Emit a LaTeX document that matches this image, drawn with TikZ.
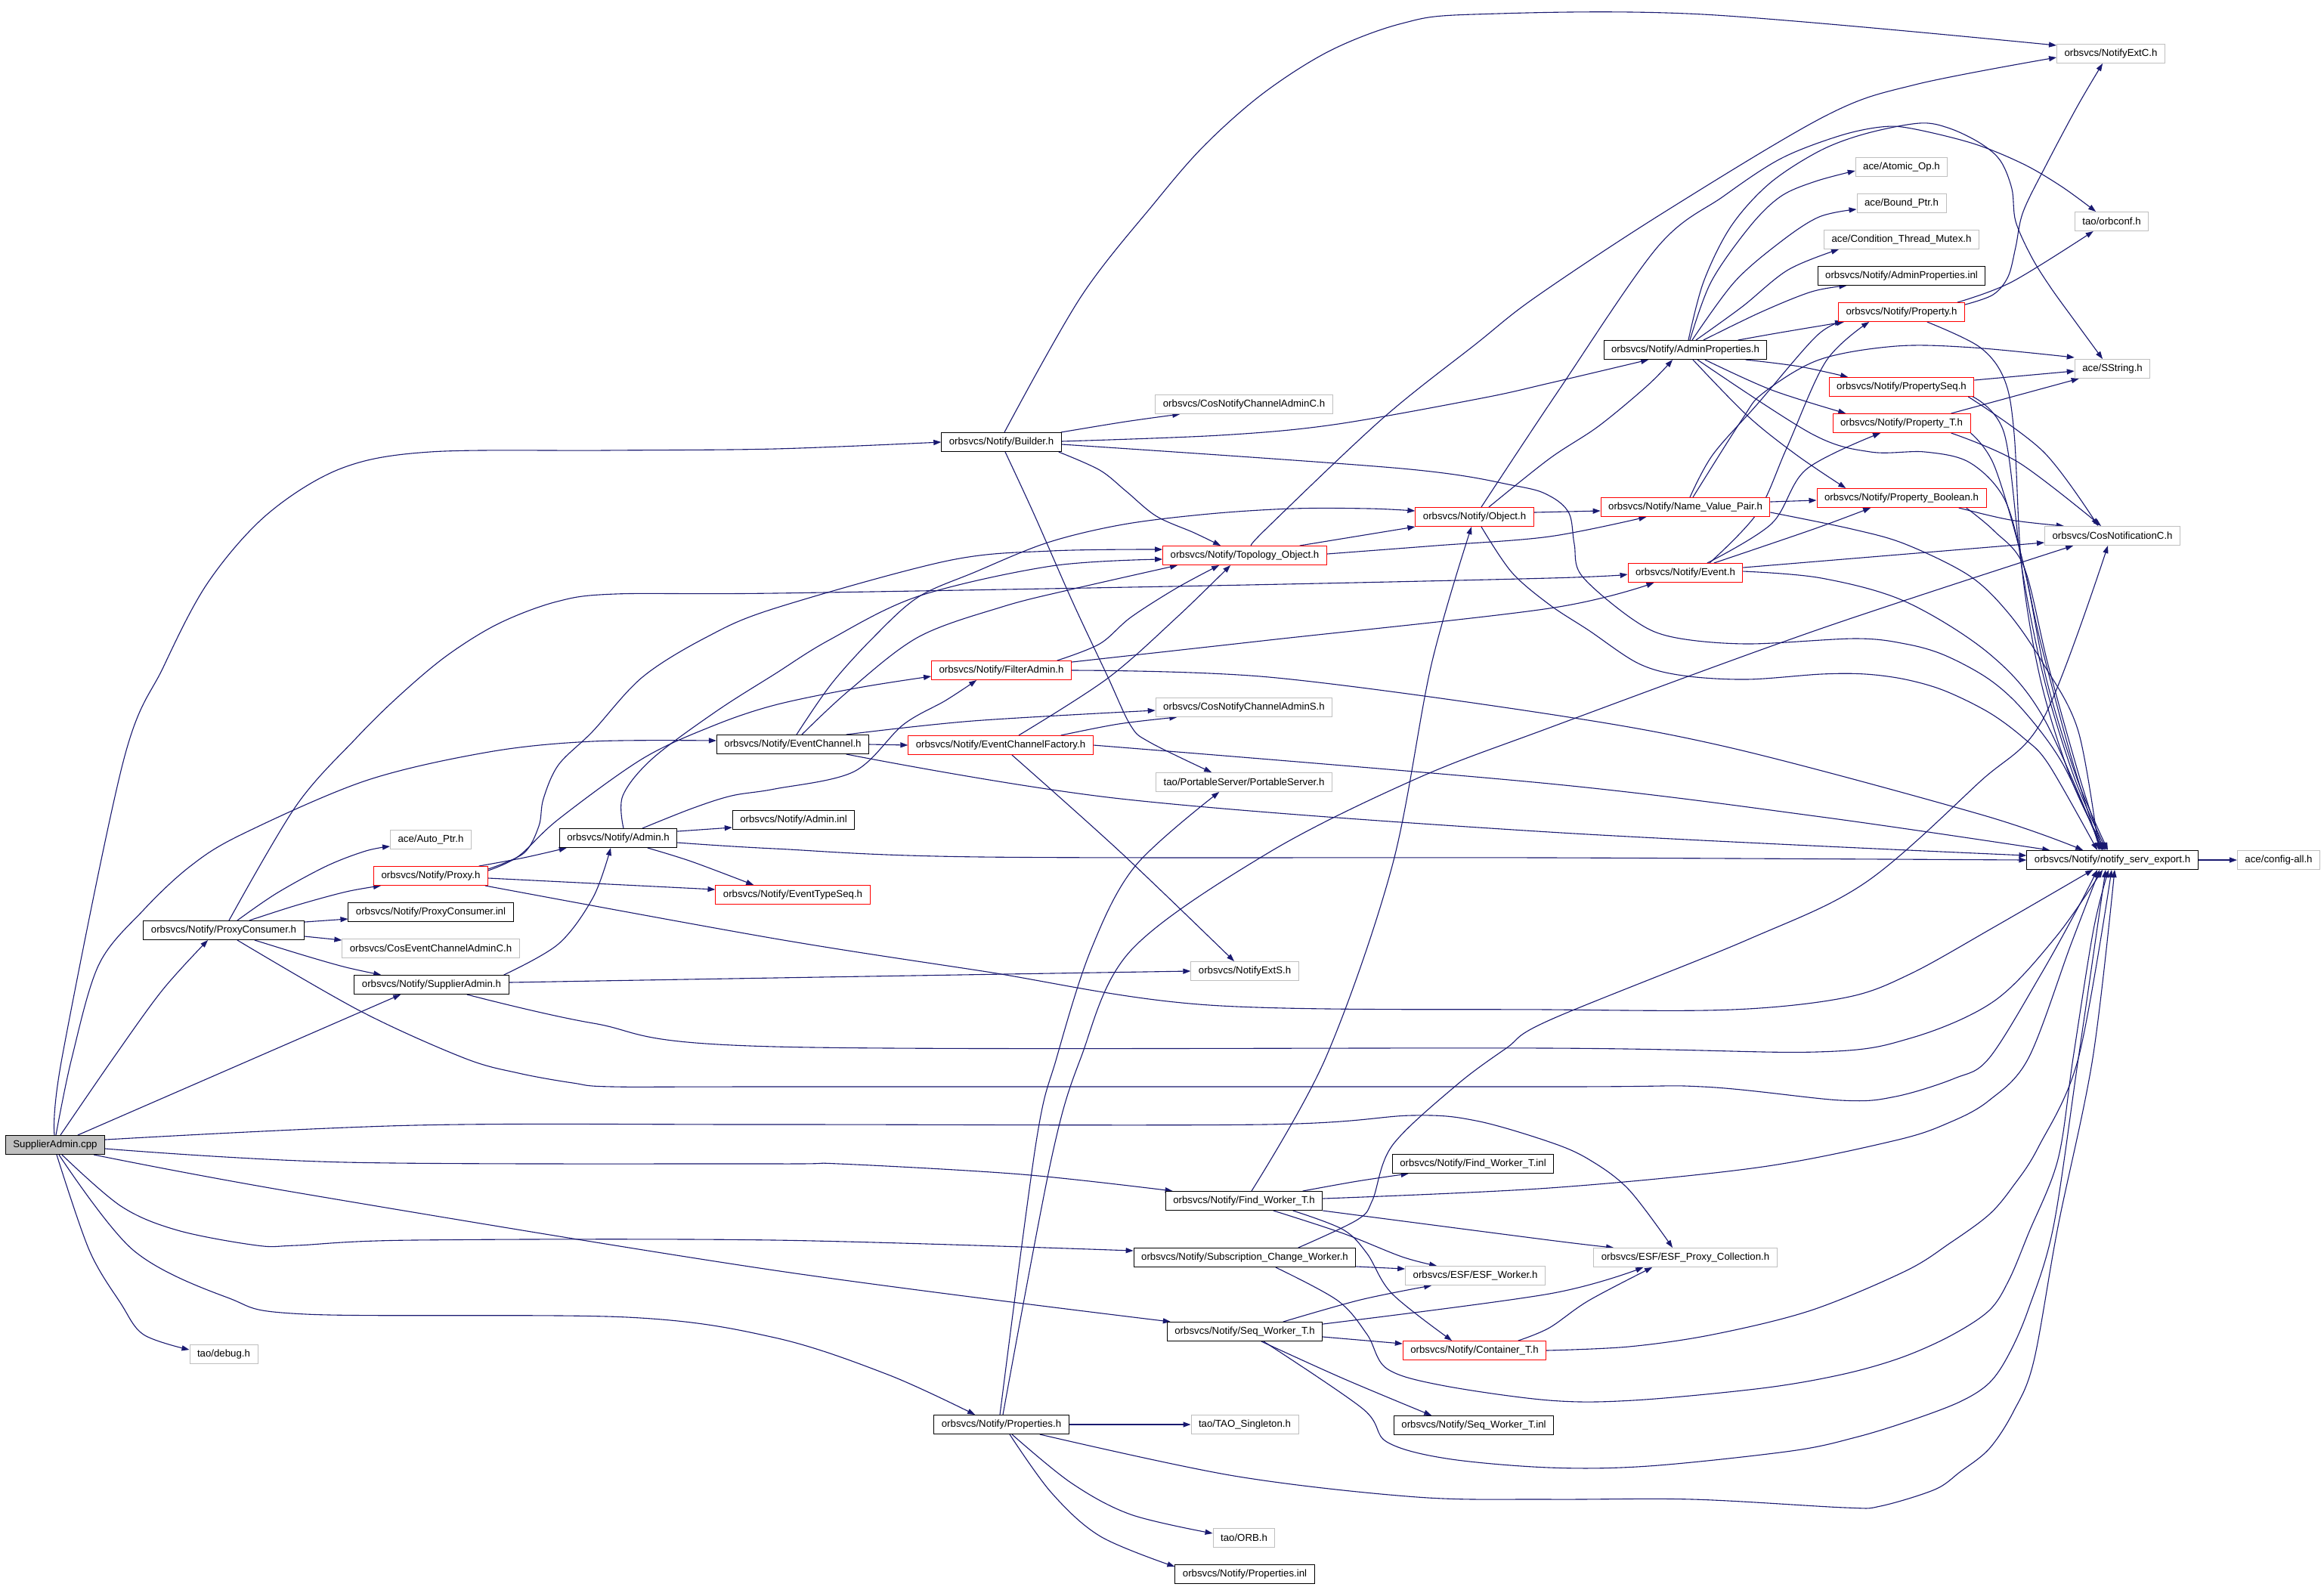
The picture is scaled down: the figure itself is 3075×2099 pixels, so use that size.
\documentclass[tikz,border=0pt]{standalone}
\usepackage{fontspec}
\setmainfont{Liberation Sans}
\usetikzlibrary{arrows.meta}
\definecolor{edgec}{HTML}{191970}
\definecolor{graybd}{HTML}{BFBFBF}
\pgfdeclarelayer{bg}
\pgfsetlayers{bg,main}
\begin{document}
\begin{tikzpicture}[x=1bp,y=-1bp,
 box/.style={rectangle, fill=white, minimum height=25bp, inner xsep=10bp, inner ysep=2bp, font=\fontsize{13.3}{15}\selectfont, line width=1bp},
 blk/.style={box, draw=black},
 redb/.style={box, draw=red},
 gryb/.style={box, draw=graybd},
 root/.style={box, draw=black, fill=graybd},
 dep/.style={draw=edgec, line width=1.1bp, -{Triangle[length=10bp,width=7bp]}},
 sm/.style={smooth, tension=0.55}]
\useasboundingbox (0,0) rectangle (3075,2099);
\node[root] (cpp) at (73,1515) {SupplierAdmin.cpp};
\node[blk] (builder) at (1325,585) {orbsvcs/Notify/Builder.h};
\node[gryb] (cncac) at (1646,535) {orbsvcs/CosNotifyChannelAdminC.h};
\node[gryb] (nextc) at (2793,71) {orbsvcs/NotifyExtC.h};
\node[gryb] (atomic) at (2516,221) {ace/Atomic\_Op.h};
\node[gryb] (bound) at (2516,269) {ace/Bound\_Ptr.h};
\node[gryb] (ctm) at (2516,317) {ace/Condition\_Thread\_Mutex.h};
\node[blk] (apinl) at (2516,365) {orbsvcs/Notify/AdminProperties.inl};
\node[gryb] (orbconf) at (2794,293) {tao/orbconf.h};
\node[redb] (prop) at (2516,413) {orbsvcs/Notify/Property.h};
\node[blk] (adminprops) at (2230,463) {orbsvcs/Notify/AdminProperties.h};
\node[gryb] (sstring) at (2795,488) {ace/SString.h};
\node[redb] (propseq) at (2516,512) {orbsvcs/Notify/PropertySeq.h};
\node[redb] (propt) at (2516,560) {orbsvcs/Notify/Property\_T.h};
\node[redb] (object) at (1951,684) {orbsvcs/Notify/Object.h};
\node[redb] (nvp) at (2230,671) {orbsvcs/Notify/Name\_Value\_Pair.h};
\node[redb] (propbool) at (2516,659) {orbsvcs/Notify/Property\_Boolean.h};
\node[gryb] (cosnotc) at (2795,709) {orbsvcs/CosNotificationC.h};
\node[redb] (topo) at (1647,735) {orbsvcs/Notify/Topology\_Object.h};
\node[redb] (event) at (2230,758) {orbsvcs/Notify/Event.h};
\node[redb] (filter) at (1325,887) {orbsvcs/Notify/FilterAdmin.h};
\node[gryb] (cncas) at (1646,936) {orbsvcs/CosNotifyChannelAdminS.h};
\node[blk] (ec) at (1049,985) {orbsvcs/Notify/EventChannel.h};
\node[redb] (ecf) at (1324,986) {orbsvcs/Notify/EventChannelFactory.h};
\node[gryb] (ps) at (1646,1035) {tao/PortableServer/PortableServer.h};
\node[blk] (admininl) at (1050,1085) {orbsvcs/Notify/Admin.inl};
\node[blk] (admin) at (818,1109) {orbsvcs/Notify/Admin.h};
\node[blk] (notify) at (2795,1138) {orbsvcs/Notify/notify\_serv\_export.h};
\node[gryb] (config) at (3015,1138) {ace/config-all.h};
\node[gryb] (autoptr) at (570,1111) {ace/Auto\_Ptr.h};
\node[redb] (proxy) at (570,1159) {orbsvcs/Notify/Proxy.h};
\node[redb] (ets) at (1049,1184) {orbsvcs/Notify/EventTypeSeq.h};
\node[blk] (pcinl) at (570,1207) {orbsvcs/Notify/ProxyConsumer.inl};
\node[gryb] (cecac) at (570,1255) {orbsvcs/CosEventChannelAdminC.h};
\node[blk] (pc) at (296,1231) {orbsvcs/Notify/ProxyConsumer.h};
\node[blk] (sa) at (571,1303) {orbsvcs/Notify/SupplierAdmin.h};
\node[gryb] (nexts) at (1647,1285) {orbsvcs/NotifyExtS.h};
\node[blk] (fwt) at (1646,1589) {orbsvcs/Notify/Find\_Worker\_T.h};
\node[blk] (fwtinl) at (1949,1540) {orbsvcs/Notify/Find\_Worker\_T.inl};
\node[gryb] (esfpc) at (2230,1664) {orbsvcs/ESF/ESF\_Proxy\_Collection.h};
\node[blk] (scw) at (1647,1664) {orbsvcs/Notify/Subscription\_Change\_Worker.h};
\node[gryb] (esfw) at (1952,1688) {orbsvcs/ESF/ESF\_Worker.h};
\node[blk] (swt) at (1647,1762) {orbsvcs/Notify/Seq\_Worker\_T.h};
\node[redb] (ct) at (1951,1787) {orbsvcs/Notify/Container\_T.h};
\node[blk] (swtinl) at (1950,1886) {orbsvcs/Notify/Seq\_Worker\_T.inl};
\node[gryb] (debug) at (296,1792) {tao/debug.h};
\node[blk] (props) at (1325,1885) {orbsvcs/Notify/Properties.h};
\node[gryb] (taos) at (1647,1885) {tao/TAO\_Singleton.h};
\node[gryb] (orb) at (1646,2035) {tao/ORB.h};
\node[blk] (propsinl) at (1647,2083) {orbsvcs/Notify/Properties.inl};
\begin{pgfonlayer}{bg}
\fill[white] (0,0) rectangle (3075,2099);
% SupplierAdmin.cpp
\draw[dep] plot[sm] coordinates {([xshift=-1]cpp.north) (82,1400) (163,1008) (216,883) (275,771) (353,681) (451,620) (569,598) (800,596) (1025,594) (builder.west)};
\draw[dep] plot[sm] coordinates {([xshift=1]cpp.north) (95,1400) (131,1276) (190,1204) (252,1146) (320,1104) (484,1033) (647,995) (784,981) ([yshift=5]ec.west)};
\draw[dep] plot[sm] coordinates {([xshift=7]cpp.north) (150,1400) (215,1310) ([xshift=-21]pc.south)};
\draw[dep] ([xshift=30]cpp.north) -- ([xshift=-41]sa.south);
\draw[dep] plot[sm] coordinates {([yshift=7]cpp.east) (549,1489) (1025,1488) (1672,1488) (1868,1476) (1953,1483) (2050,1511) (2102,1534) (2155,1574) ([xshift=-17]esfpc.north)};
\draw[dep] plot[sm] coordinates {([yshift=-5]cpp.east) (458,1538) (1025,1540) (1110,1540) (1352,1554) ([xshift=10]fwt.north west)};
\draw[dep] plot[sm] coordinates {([xshift=-15]cpp.south east) (392,1578) (1025,1681) ([xshift=5]swt.north west)};
\draw[dep] plot[sm] coordinates {([xshift=9]cpp.south) (160,1596) (235,1628) (340,1648) (392,1648) (546,1641) (1025,1641) ([yshift=9]scw.west)};
\draw[dep] plot[sm] coordinates {([xshift=5]cpp.south) (176,1654) (301,1717) (405,1739) (830,1743) (1025,1770) (1175,1819) ([xshift=-35]props.north)};
\draw[dep] plot[sm] coordinates {([xshift=2]cpp.south) (118,1654) (160,1725) (190,1766) ([yshift=6]debug.west)};
% ProxyConsumer.h
\draw[dep] plot[sm] coordinates {([xshift=18]pc.north) (366,1182) (432,1146) (484,1126) ([yshift=-9]autoptr.west)};
\draw[dep] plot[sm] coordinates {([xshift=34]pc.north) (392,1198) (458,1180) ([xshift=10]proxy.south west)};
\draw[dep] ([yshift=11]pc.east) -- ([yshift=-9]pcinl.west);
\draw[dep] ([yshift=-8]pc.east) -- ([yshift=11]cecac.west);
\draw[dep] plot[sm] coordinates {([xshift=41]pc.south) (405,1265) (458,1280) ([xshift=-67]sa.north)};
\draw[dep] plot[sm] coordinates {([xshift=7]pc.north) (392,1066) (471,977) (530,919) (592,867) (660,825) (737,796) (814,786) (1025,785) (1600,775) (2050,765) ([yshift=-2]event.west)};
\draw[dep] plot[sm] coordinates {([xshift=18]pc.south) (477,1338) (614,1400) (686,1420) (758,1433) (811,1438) (1025,1438) (2050,1438) (2253,1438) (2436,1456) (2508,1451) (2586,1427) (2632,1400) (2700,1290) (2750,1200) ([xshift=-20]notify.south)};
% Proxy.h
\draw[dep] plot[sm] coordinates {([xshift=64]proxy.north) (693,1135) ([xshift=10]admin.south west)};
\draw[dep] plot[sm] coordinates {([yshift=-4]proxy.north east) (693,1129) (713,1093) (719,1057) (739,1012) (784,968) (850,896) (935,843) (1025,805) (1254,742) (1391,729) ([yshift=8]topo.west)};
\draw[dep] plot[sm] coordinates {([yshift=-6]proxy.north east) (686,1133) (739,1084) (850,1004) (942,961) (1025,933) (1136,910) ([yshift=-8]filter.west)};
\draw[dep] ([yshift=-3]proxy.east) -- ([yshift=7]ets.west);
\draw[dep] plot[sm] coordinates {([xshift=-4]proxy.south east) (1025,1242) (1300,1285) (1600,1330) (2050,1336) (2292,1336) (2442,1320) (2527,1289) (2638,1227) ([xshift=-26]notify.south)};
% Admin.h
\draw[dep] ([yshift=9]admin.east) -- ([yshift=-10]admininl.west);
\draw[dep] plot[sm] coordinates {([yshift=-6]admin.east) (1025,1123) (1300,1134) (2050,1135) (notify.west)};
\draw[dep] plot[sm] coordinates {([xshift=39]admin.south) (915,1140) ([xshift=-52]ets.north)};
\draw[dep] plot[sm] coordinates {([xshift=7]admin.north) (824,1053) (863,1004) (948,941) (1025,892) (1097,847) (1215,789) (1391,749) ([yshift=-5]topo.west)};
\draw[dep] plot[sm] coordinates {([xshift=32]admin.north) (915,1070) (968,1053) (1025,1044) (1130,1021) (1195,959) (1251,927) ([xshift=-33]filter.south)};
% SupplierAdmin.h
\draw[dep] plot[sm] coordinates {([xshift=96]sa.north) (739,1249) (785,1187) ([xshift=-10]admin.south)};
\draw[dep] plot[sm] coordinates {([yshift=3]sa.east) (1025,1294) (nexts.west)};
\draw[dep] plot[sm] coordinates {([xshift=47]sa.south) (785,1354) (1025,1385) (2050,1387) (2403,1392) (2527,1374) (2638,1325) (2720,1240) ([xshift=-13]notify.south)};
% EventChannel.h
\draw[dep] (ec.east) -- (ecf.west);
\draw[dep] plot[sm] coordinates {([xshift=71]ec.north) (1287,954) ([yshift=-4]cncas.west)};
\draw[dep] plot[sm] coordinates {([xshift=12]ec.north) (1123,914) (1215,843) (1326,803) (1417,780) ([xshift=20]topo.south west)};
\draw[dep] plot[sm] coordinates {([xshift=5]ec.north) (1100,905) (1156,843) (1215,790) (1290,757) (1386,718) (1486,694) (1600,680) (1710,673) (1812,673) ([yshift=8]object.west)};
\draw[dep] plot[sm] coordinates {([xshift=71]ec.south) (1483,1057) (2050,1101) ([yshift=6]notify.west)};
% EventChannelFactory.h
\draw[dep] plot[sm] coordinates {([xshift=80]ecf.north) (1480,958) ([xshift=-89]cncas.south)};
\draw[dep] plot[sm] coordinates {([xshift=24]ecf.north) (1465,898) (1557,817) ([xshift=-19]topo.south)};
\draw[dep] plot[sm] coordinates {([xshift=15]ecf.south) (1483,1128) ([xshift=-14]nexts.north)};
\draw[dep] plot[sm] coordinates {(ecf.east) (2050,1037) (2410,1081) ([xshift=31]notify.north west)};
% FilterAdmin.h
\draw[dep] plot[sm] coordinates {([xshift=74]filter.north) (1455,852) (1496,817) (1557,778) ([xshift=-34]topo.south)};
\draw[dep] plot[sm] coordinates {([yshift=11]filter.east) (1679,847) (2050,805) ([xshift=35]event.south west)};
\draw[dep] plot[sm] coordinates {(filter.east) (1679,896) (2050,945) (2292,990) (2625,1079) ([xshift=-39]notify.north)};
% Builder.h
\draw[dep] plot[sm] coordinates {([xshift=4]builder.north) (1430,393) (1528,268) (1594,192) (1672,123) (1760,67) (1855,31) (1950,19) (2253,19) ([yshift=11]nextc.west)};
\draw[dep] plot[sm] coordinates {([xshift=79]builder.north) (1489,558) ([xshift=-85]cncac.south)};
\draw[dep] plot[sm] coordinates {([yshift=1]builder.east) (1614,576) (1764,562) (1960,527) (2050,507) ([xshift=-49]adminprops.south)};
\draw[dep] plot[sm] coordinates {([yshift=-3]builder.east) (1855,620) (2006,643) (2050,656) (2076,679) (2083,720) (2093,762) (2161,820) (2213,843) (2311,852) (2455,845) (2521,852) (2573,867) (2632,899) (2678,941) (2730,1012) ([xshift=-13]notify.north)};
\draw[dep] plot[sm] coordinates {([xshift=76]builder.south) (1455,622) (1490,650) (1530,683) (1580,705) ([xshift=-32]topo.north)};
\draw[dep] plot[sm] coordinates {([xshift=5]builder.south) (1368,680) (1419,796) (1465,894) (1496,960) (1521,982) ([xshift=-43]ps.north)};
% Topology_Object.h
\draw[dep] ([xshift=73]topo.north) -- (object.south west);
\draw[dep] plot[sm] coordinates {([yshift=2]topo.east) (1900,722) (2050,710) ([xshift=61]nvp.south west)};
\draw[dep] plot[sm] coordinates {([xshift=9]topo.north) (1675,700) (1829,554) (1953,455) (2032,393) (2200,282) (2416,153) (2534,112) ([yshift=-5]nextc.west)};
% Object.h
\draw[dep] ([yshift=6]object.east) -- ([yshift=-5]nvp.west);
\draw[dep] plot[sm] coordinates {([xshift=19]object.north) (2050,607) (2115,564) (2180,510) ([xshift=-17]adminprops.south)};
\draw[dep] plot[sm] coordinates {([xshift=9]object.north) (2060,520) (2193,327) (2280,260) (2356,210) (2433,180) (2489,168) (2529,170) (2611,190) (2677,217) (2728,247) ([xshift=-21]orbconf.north)};
\draw[dep] plot[sm] coordinates {([xshift=9]object.south) (2000,757) (2050,800) (2102,834) (2168,878) (2227,894) (2311,899) (2410,892) (2468,892) (2521,899) (2573,914) (2632,943) (2678,977) (2711,1012) ([xshift=-20]notify.north)};
% AdminProperties.h
\draw[dep] plot[sm] coordinates {([xshift=4]adminprops.north) (2254,373) (2290,300) (2341,243) (2407,200) (2468,177) (2540,163) (2580,170) (2621,190) (2647,213) (2662,250) (2667,293) (2688,340) (2713,380) (2744,423) ([xshift=-13]sstring.north)};
\draw[dep] plot[sm] coordinates {([xshift=6]adminprops.north) (2264,373) (2315,300) (2356,260) (2402,240) ([yshift=-5]atomic.west)};
\draw[dep] plot[sm] coordinates {([xshift=9]adminprops.north) (2295,373) (2356,320) (2407,287) ([yshift=-8]bound.west)};
\draw[dep] plot[sm] coordinates {([xshift=14]adminprops.north) (2305,406) (2366,357) ([xshift=20]ctm.south west)};
\draw[dep] plot[sm] coordinates {([xshift=24]adminprops.north) (2330,413) (2397,386) ([xshift=39]apinl.south west)};
\draw[dep] plot[sm] coordinates {([xshift=70]adminprops.north) (2356,440) ([xshift=8]prop.south west)};
\draw[dep] plot[sm] coordinates {([xshift=80]adminprops.south) (2381,485) ([xshift=-71]propseq.north)};
\draw[dep] plot[sm] coordinates {([xshift=26]adminprops.south) (2344,516) ([xshift=-74]propt.north)};
\draw[dep] plot[sm] coordinates {([xshift=10]adminprops.south) (2312,550) (2377,602) ([xshift=-74]propbool.north)};
\draw[dep] plot[sm] coordinates {([xshift=16]adminprops.south) (2397,574) (2475,598) (2547,598) (2606,612) (2652,660) (2678,750) (2700,850) (2740,1000) ([xshift=-16]notify.north)};
% Property.h
\draw[dep] plot[sm] coordinates {([xshift=-10]prop.north east) (2662,373) ([xshift=25]orbconf.south west)};
\draw[dep] plot[sm] coordinates {([yshift=10]prop.east) (2637,390) (2657,366) (2667,327) (2677,280) (2708,217) (2749,140) ([xshift=-11]nextc.south)};
\draw[dep] plot[sm] coordinates {([xshift=34]prop.south) (2619,459) (2652,502) (2665,574) (2675,750) (2700,900) (2740,1030) ([xshift=-10]notify.north)};
% PropertySeq.h
\draw[dep] ([yshift=9]propseq.east) -- ([yshift=-3]sstring.west);
\draw[dep] plot[sm] coordinates {([xshift=-8]propseq.south east) (2704,598) ([xshift=-19]cosnotc.north)};
\draw[dep] plot[sm] coordinates {([xshift=-2]propseq.south east) (2652,574) (2675,750) (2705,900) (2745,1030) ([xshift=-8]notify.north)};
% Property_T.h
\draw[dep] ([xshift=-26]propt.north east) -- ([xshift=6]sstring.south west);
\draw[dep] plot[sm] coordinates {([xshift=-26]propt.south east) (2671,612) ([xshift=-15]cosnotc.north)};
\draw[dep] plot[sm] coordinates {(propt.south east) (2639,617) (2678,750) (2708,900) (2748,1030) ([xshift=-6]notify.north)};
% Property_Boolean.h
\draw[dep] plot[sm] coordinates {([xshift=-37]propbool.south east) (2660,688) ([xshift=26]cosnotc.north west)};
\draw[dep] plot[sm] coordinates {([xshift=-27]propbool.south east) (2639,703) (2678,750) (2710,880) (2752,1030) ([xshift=-12]notify.north)};
% Name_Value_Pair.h
\draw[dep] plot[sm] coordinates {([xshift=6]nvp.north) (2266,602) (2325,535) (2403,445) ([xshift=6]prop.south west)};
\draw[dep] plot[sm] coordinates {([xshift=10]nvp.north) (2305,555) (2333,520) (2407,476) (2509,458) (2611,460) ([yshift=15]sstring.west)};
\draw[dep] ([yshift=7]nvp.east) -- ([yshift=-3]propbool.west);
\draw[dep] plot[sm] coordinates {([yshift=-7]nvp.east) (2450,700) (2521,720) (2606,762) (2658,812) (2704,879) (2750,968) ([xshift=-18]notify.north)};
% Event.h
\draw[dep] plot[sm] coordinates {([xshift=32]event.north) (2325,679) (2364,593) (2416,478) ([xshift=-43]prop.south)};
\draw[dep] plot[sm] coordinates {([xshift=29]event.north) (2344,693) (2390,621) ([xshift=-28]propt.south)};
\draw[dep] plot[sm] coordinates {([xshift=38]event.north) (2400,700) ([xshift=-41]propbool.south)};
\draw[dep] ([yshift=7]event.east) -- ([yshift=-9]cosnotc.west);
\draw[dep] plot[sm] coordinates {([yshift=2]event.east) (2410,765) (2521,796) (2632,865) (2704,950) ([xshift=-14]notify.north)};
% Find_Worker_T.h
\draw[dep] plot[sm] coordinates {([xshift=10]fwt.north) (1754,1400) (1842,1146) (1894,879) ([xshift=-4]object.south)};
\draw[dep] plot[sm] coordinates {([xshift=78]fwt.north) (1796,1563) ([xshift=22]fwtinl.south west)};
\draw[dep] plot[sm] coordinates {([yshift=3]fwt.east) (2050,1572) (2325,1545) (2508,1509) (2580,1485) (2632,1456) (2684,1400) (2740,1250) ([xshift=-17]notify.south)};
\draw[dep] plot[sm] coordinates {([xshift=39]fwt.south) (1777,1632) (1855,1663) ([xshift=-51]esfw.north)};
\draw[dep] plot[sm] coordinates {(fwt.south east) (2050,1641) ([xshift=27]esfpc.north west)};
\draw[dep] plot[sm] coordinates {([xshift=65]fwt.south) (1777,1627) (1809,1659) (1842,1712) ([xshift=-30]ct.north)};
% Subscription_Change_Worker.h
\draw[dep] ([yshift=-12]scw.east) -- ([yshift=9]esfw.west);
\draw[dep] plot[sm] coordinates {([xshift=71]scw.north) (1796,1614) (1816,1588) (1842,1516) (1927,1436) (1993,1387) (2050,1350) (2311,1244) (2468,1168) (2619,1035) (2704,950) ([xshift=-6]cosnotc.south)};
\draw[dep] plot[sm] coordinates {([xshift=41]scw.south) (1770,1721) (1809,1766) (1835,1811) (1907,1833) (2050,1853) (2161,1853) (2331,1837) (2436,1819) (2514,1797) (2580,1768) (2632,1734) (2658,1694) (2684,1632) (2723,1534) (2743,1400) (2770,1230) ([xshift=-5]notify.south)};
% Seq_Worker_T.h
\draw[dep] plot[sm] coordinates {([xshift=51]swt.north) (1800,1720) ([xshift=-58]esfw.south)};
\draw[dep] plot[sm] coordinates {([yshift=10]swt.east) (2050,1712) ([xshift=-56]esfpc.south)};
\draw[dep] ([yshift=-7]swt.east) -- ([yshift=9]ct.west);
\draw[dep] plot[sm] coordinates {([xshift=22]swt.south) (1777,1824) ([xshift=-56]swtinl.north)};
\draw[dep] plot[sm] coordinates {([xshift=25]swt.south) (1803,1864) (1835,1908) (1914,1930) (2050,1942) (2181,1940) (2370,1920) (2455,1902) (2527,1880) (2593,1855) (2632,1830) (2658,1792) (2684,1732) (2717,1623) (2750,1400) ([xshift=-9]notify.south)};
% Container_T.h
\draw[dep] plot[sm] coordinates {([xshift=58]ct.north) (2050,1757) (2102,1721) ([xshift=-44]esfpc.south)};
\draw[dep] plot[sm] coordinates {(ct.east) (2155,1782) (2266,1766) (2396,1734) (2521,1682) (2580,1645) (2632,1607) (2664,1569) (2697,1518) (2750,1400) ([xshift=-1]notify.south)};
% Properties.h
\draw[dep] (props.east) -- (taos.west);
\draw[dep] plot[sm] coordinates {([xshift=14]props.south) (1417,1962) (1496,2004) ([yshift=6]orb.west)};
\draw[dep] plot[sm] coordinates {([xshift=11]props.south) (1391,1975) (1456,2033) ([yshift=10]propsinl.west)};
\draw[dep] plot[sm] coordinates {([xshift=51]props.south) (1633,1953) (1875,1981) (2050,1984) (2240,1984) (2442,1995) (2488,1993) (2560,1971) (2593,1948) (2632,1917) (2664,1868) (2691,1801) (2723,1623) (2769,1400) ([xshift=3]notify.south)};
\draw[dep] plot[sm] coordinates {([xshift=-2]props.north) (1371,1511) (1398,1400) (1443,1258) (1502,1146) ([xshift=-33]ps.south)};
\draw[dep] plot[sm] coordinates {([xshift=2]props.north) (1391,1534) (1430,1400) (1496,1258) (1679,1128) (1875,1030) (2050,963) (2403,834) ([xshift=-52]cosnotc.south)};
% notify_serv_export.h
\draw[dep] (notify.east) -- (config.west);
\end{pgfonlayer}
\end{tikzpicture}
\end{document}
